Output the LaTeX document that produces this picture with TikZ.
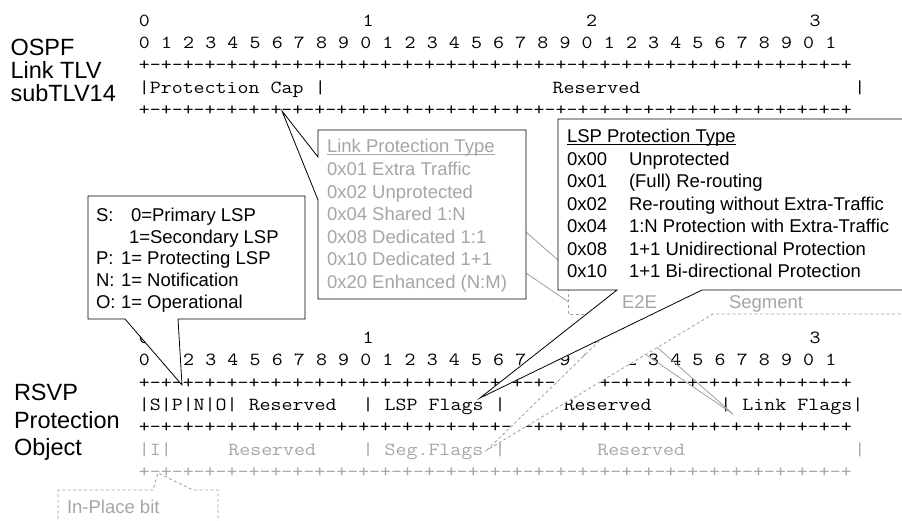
\documentclass[tikz,border=0pt]{standalone}
\usepackage{fontspec}
\newfontfamily\arialf{Liberation Sans}
\definecolor{lgray}{RGB}{160,160,160}
\definecolor{ltxt}{RGB}{166,166,166}
\tikzset{
  mono/.style={font=\ttfamily\fontsize{18.5}{20}\selectfont, inner sep=0pt, outer sep=0pt, anchor=base west},
  sans/.style={font=\arialf\fontsize{18.5}{22}\selectfont, inner sep=0pt, outer sep=0pt, anchor=base west},
  big/.style={font=\arialf\fontsize{23.5}{26}\selectfont, inner sep=0pt, outer sep=0pt, anchor=base west},
  callout/.style={draw=black, fill=white, line width=0.8pt, line join=miter},
  gdash/.style={draw=lgray, line width=0.8pt, dash pattern=on 3pt off 2.5pt},
  gline/.style={draw=lgray, line width=0.8pt},
  gtext/.style={text=ltxt},
}
% one monospaced cell of blank
\newcommand\msp{\hspace*{0.525em}}
% monospaced cells stretched to the 11.18pt pitch of the reference
\newcommand\asc[5]{\node[mono,#1] (#2) at ({138.91+11.18*(#3)},#4) {\scalebox{1.1511}[1]{#5}};}
\newcommand\plusrow{+-+-+-+-+-+-+-+-+-+-+-+-+-+-+-+-+-+-+-+-+-+-+-+-+-+-+-+-+-+-+-+-+}
\newcommand\bitrow{0\msp 1\msp 2\msp 3\msp 4\msp 5\msp 6\msp 7\msp 8\msp 9\msp 0\msp 1\msp 2\msp 3\msp 4\msp 5\msp 6\msp 7\msp 8\msp 9\msp 0\msp 1\msp 2\msp 3\msp 4\msp 5\msp 6\msp 7\msp 8\msp 9\msp 0\msp 1}
\begin{document}
\begin{tikzpicture}[x=1pt,y=-1pt]
\useasboundingbox (0,0) rectangle (902,521);
\clip (0,0) rectangle (902,521);
\fill[white] (0,0) rectangle (902,521);

% ---------- OSPF ascii ----------
\asc{}{ta0}{0}{26.5}{0}
\asc{}{ta1}{20}{26.5}{1}
\asc{}{ta2}{40}{26.5}{2}
\asc{}{ta3}{60}{26.5}{3}
\asc{}{tbits}{0}{48.7}{\bitrow}
\asc{}{tplus1}{0}{70.9}{\plusrow}
\asc{}{tpcap}{0}{93.1}{|Protection\msp Cap\msp |}
\asc{}{tres}{37}{93.1}{Reserved}
\asc{}{tend}{64}{93.1}{|}
\asc{}{tplus2}{0}{115.3}{\plusrow}

% ---------- RSVP ascii ----------
\asc{}{ba0}{0}{343.2}{0}
\asc{}{ba1}{20}{343.2}{1}
\asc{}{ba2}{40}{343.2}{2}
\asc{}{ba3}{60}{343.2}{3}
\asc{}{bbits}{0}{365.6}{\bitrow}
\asc{}{bplus1}{0}{388}{\plusrow}
\asc{}{bflags}{0}{410.4}{|S|P|N|O|\msp Reserved}
\asc{}{blsp}{20}{410.4}{|\msp LSP\msp Flags\msp |}
\asc{}{bres}{38}{410.4}{Reserved}
\asc{}{blink}{52}{410.4}{|\msp Link\msp Flags|}
\asc{}{bplus2}{0}{432.8}{\plusrow}
\asc{gtext}{gi}{0}{455.2}{|I|}
\asc{gtext}{gres1}{8}{455.2}{Reserved}
\asc{gtext}{gseg}{20}{455.2}{|\msp Seg.Flags\msp |}
\asc{gtext}{gres2}{41}{455.2}{Reserved}
\asc{gtext}{gend}{64}{455.2}{|}
\asc{gtext}{gplus}{0}{477.6}{\plusrow}

% ---------- gray pointer to Link Flags ----------
\coordinate (lfapex) at (733,414);
\coordinate (lpr1) at (526,232);
\coordinate (lpr2) at (526,273);
\draw[gline] (lpr1) -- (lfapex) -- (lpr2);

% ---------- Segment callout (dashed) ----------
\coordinate (sgapex) at (487,450);
\coordinate (sgb1) at (627,314);
\coordinate (sgb2) at (713,314);
\fill[white] (sgapex) -- (sgb1) -- (sgb2) -- cycle;
\draw[gdash] (sgb1) -- (sgapex) -- (sgb2) -- (905,314);

% ---------- E2E box (dashed) ----------
\filldraw[gdash, fill=white] (568,250) rectangle (645,314);

% ---------- LSP Protection Type callout ----------
\coordinate (lspapex) at (480,398);
\draw[callout] (558,119) -- (905,119) -- (905,290) -- (702,290) -- (lspapex) -- (617,290) -- (558,290) -- cycle;
\node[sans] (lsptitle) at (567,142.5) {LSP Protection Type};
\draw[line width=0.8pt] ([yshift=-1.8pt]lsptitle.base west) -- ([yshift=-1.8pt]lsptitle.base east);
\node[sans] (l0a) at (567,165.5) {0x00};
\node[sans] (l0b) at (629,165.5) {Unprotected};
\node[sans] (l1a) at (567,187.9) {0x01};
\node[sans] (l1b) at (629,187.9) {(Full) Re-routing};
\node[sans] (l2a) at (567,210.3) {0x02};
\node[sans] (l2b) at (629,210.3) {Re-routing without Extra-Traffic};
\node[sans] (l3a) at (567,232.7) {0x04};
\node[sans] (l3b) at (629,232.7) {1:N Protection with Extra-Traffic};
\node[sans] (l4a) at (567,255.1) {0x08};
\node[sans] (l4b) at (629,255.1) {1+1 Unidirectional Protection};
\node[sans] (l5a) at (567,277.5) {0x10};
\node[sans] (l5b) at (629,277.5) {1+1 Bi-directional Protection};

% ---------- E2E / Segment labels ----------
\node[sans,gtext] (e2e) at (622,308.5) {E2E};
\node[sans,gtext] (segm) at (729,308.5) {Segment};

% ---------- Link Protection Type callout ----------
\coordinate (pcapex) at (282,111);
\draw[callout] (318,130) -- (526,130) -- (526,299) -- (318,299) -- (318,200) -- (pcapex) -- (318,157) -- cycle;
\node[sans,gtext] (lpttitle) at (327,153) {Link Protection Type};
\draw[ltxt, line width=0.8pt] ([yshift=-1.8pt]lpttitle.base west) -- ([yshift=-1.8pt]lpttitle.base east);
\node[sans,gtext] (lp1) at (327,175.6) {0x01 Extra Traffic};
\node[sans,gtext] (lp2) at (327,198.2) {0x02 Unprotected};
\node[sans,gtext] (lp3) at (327,220.8) {0x04 Shared 1:N};
\node[sans,gtext] (lp4) at (327,243.4) {0x08 Dedicated 1:1};
\node[sans,gtext] (lp5) at (327,266) {0x10 Dedicated 1+1};
\node[sans,gtext] (lp6) at (327,288.6) {0x20 Enhanced (N:M)};

% ---------- S/P/N/O callout ----------
\coordinate (papex) at (182,385);
\draw[callout] (88,196) -- (305,196) -- (305,319) -- (178,319) -- (papex) -- (125,319) -- (88,319) -- cycle;
\node[sans] (s1) at (96,221.5) {S:};
\node[sans] (s1b) at (131,221.5) {0=Primary LSP};
\node[sans] (s2b) at (129,243.2) {1=Secondary LSP};
\node[sans] (s3) at (96,264.9) {P:};
\node[sans] (s3b) at (121,264.9) {1= Protecting LSP};
\node[sans] (s4) at (96,286.6) {N:};
\node[sans] (s4b) at (121,286.6) {1= Notification};
\node[sans] (s5) at (96,308.3) {O:};
\node[sans] (s5b) at (121,308.3) {1= Operational};

% ---------- In-Place bit callout ----------
\coordinate (iapex) at (158,473);
\draw[gdash, fill=white] (58,530) -- (58,490) -- (153,490) -- (iapex) -- (193,490) -- (218,490) -- (218,530);
\node[sans,gtext] (inplace) at (67,513) {In-Place bit};

% ---------- side labels ----------
\node[big] (ospf1) at (10.5,55.2) {OSPF};
\node[big] (ospf2) at (10.5,78.5) {Link TLV};
\node[big] (ospf3) at (10.5,101.8) {subTLV14};
\node[big] (rsvp1) at (14,400) {RSVP};
\node[big] (rsvp2) at (14,428.5) {Protection};
\node[big] (rsvp3) at (14,455) {Object};
\end{tikzpicture}
\end{document}
